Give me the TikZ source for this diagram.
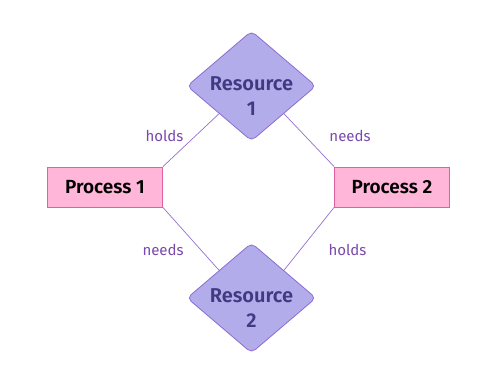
\documentclass[tikz,border=0pt]{standalone}
\usepackage{fontspec}
\setmainfont{Fira Sans}[BoldFont={Fira Sans SemiBold}]
\usetikzlibrary{
  shapes.geometric,
  positioning,
  calc
}
\definecolor{rgRes}{HTML}{B3ACEA}
\definecolor{rgResLine}{HTML}{8B6CD2}
\definecolor{rgResText}{HTML}{3F3A82}
\definecolor{rgProc}{HTML}{FFB6D8}
\definecolor{rgProcLine}{HTML}{E0619F}
\definecolor{rgEdge}{HTML}{9670D0}
\definecolor{rgLabel}{HTML}{7A48AE}
\tikzset{
  resource/.style={
    diamond, draw=rgResLine, fill=rgRes, line width=0.8pt, rounded corners=5pt,
    minimum width=129pt, minimum height=110pt, inner sep=0pt, aspect=1.17
  },
  restext/.style={font=\fontsize{20}{25}\selectfont\bfseries, text=rgResText, align=center},
  process/.style={
    draw=rgProcLine, fill=rgProc, line width=0.8pt, minimum width=115pt, minimum height=40pt,
    font=\fontsize{19}{23}\selectfont\bfseries, inner sep=0pt
  },
  edge/.style={rgEdge, line width=0.7pt},
  edgetag/.style={font=\fontsize{15}{18}\selectfont, text=rgLabel, inner sep=1pt}
}
\begin{document}
\begin{tikzpicture}[x=1pt, y=-1pt]
  \useasboundingbox (0,0) rectangle (492,380);
  \node[resource, label={[restext, yshift=-10pt]center:Resource\\1}] (res1) at (251.5,86) {};
  \node[resource, label={[restext, yshift=-10pt]center:Resource\\2}] (res2) at (251.5,298) {};
  \node[process] (proc1) at (105,187) {Process 1};
  \node[process] (proc2) at (392,187) {Process 2};
  % holds / needs edges
  \draw[edge] ($(res1.west)!0.5!(res1.south)$) -- (proc1.north east)
    node[edgetag, pos=0.42, xshift=-31pt] {holds};
  \draw[edge] ($(res1.east)!0.5!(res1.south)$) -- (proc2.north west)
    node[edgetag, pos=0.42, xshift=45pt] {needs};
  \draw[edge] (proc1.south east) -- ($(res2.west)!0.5!(res2.north)$)
    node[edgetag, pos=0.68, xshift=-38pt] {needs};
  \draw[edge] ($(res2.east)!0.5!(res2.north)$) -- (proc2.south west)
    node[edgetag, pos=0.33, xshift=47pt] {holds};
\end{tikzpicture}
\end{document}
